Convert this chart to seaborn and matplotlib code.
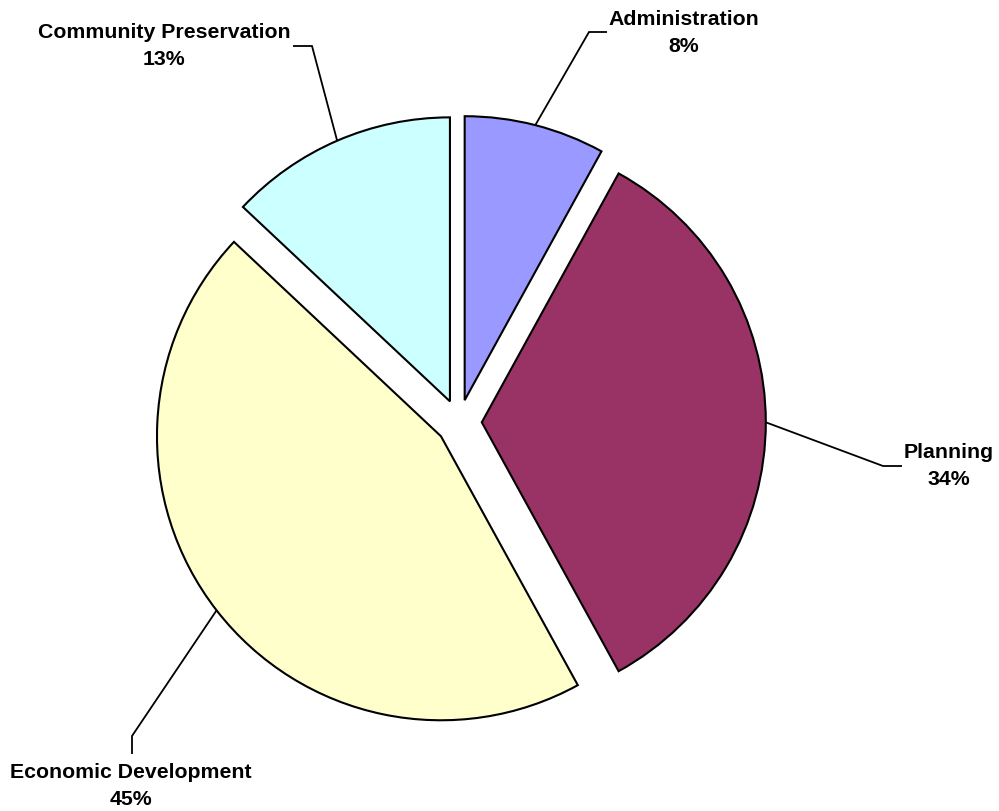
import numpy as np
import matplotlib
matplotlib.use("Agg")
import matplotlib.pyplot as plt
import seaborn as sns

categories = ["Administration", "Planning", "Economic Development", "Community Preservation"]
shares = [8, 34, 45, 13]
colors = ["#9999FF", "#993366", "#FFFFCC", "#CCFFFF"]

sns.set_style("white")
plt.rcParams["font.family"] = ["Liberation Sans", "DejaVu Sans"]

W, H = 999, 812
fig = plt.figure(figsize=(W / 100, H / 100), dpi=100)
ax = fig.add_axes([0, 0, 1, 1])

def Y(y):
    return H - y

R = 284
center = (459, Y(423.3))
wedges, _ = ax.pie(shares, colors=colors, startangle=90, counterclock=False,
                   radius=R, center=center, explode=[22.8] * len(shares),
                   wedgeprops=dict(edgecolor="black", linewidth=1.5),
                   frame=True)
ax.set_xlim(0, W)
ax.set_ylim(0, H)
ax.set_aspect("equal")
ax.axis("off")

# label layout: (text centre, elbow, end) in screen pixels
layout = {
    "Administration": ((684, 33), (589, 33), (607, 33)),
    "Planning": ((949, 466), (883, 467), (902, 467)),
    "Economic Development": ((131, 786), (132, 737), (132, 755)),
    "Community Preservation": ((164, 46), (312, 47), (293, 47)),
}

for w, cat, val in zip(wedges, categories, shares):
    th = np.deg2rad((w.theta1 + w.theta2) / 2)
    cx, cy = w.center
    px, py = cx + w.r * np.cos(th), cy + w.r * np.sin(th)
    (tx, ty), (ex, ey), (fx, fy) = layout[cat]
    ax.plot([px, ex, fx], [py, Y(ey), Y(fy)], color="black", lw=1.3,
            solid_capstyle="butt", solid_joinstyle="miter")
    ax.text(tx, Y(ty), f"{cat}\n{val}%", ha="center", va="center",
            fontsize=15.3, fontweight="bold", linespacing=1.53, color="black")

fig.savefig("out.png", dpi=100)
